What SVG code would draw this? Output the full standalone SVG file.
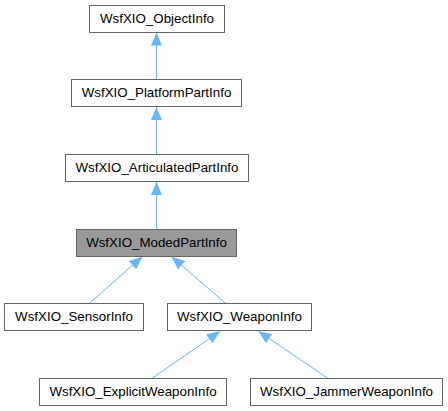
<svg xmlns="http://www.w3.org/2000/svg" width="448" height="411" viewBox="0 0 448 411">
<style>
.box{fill:#ffffff;stroke:#666666;stroke-width:1}
.cur{fill:#999999;stroke:#666666;stroke-width:1}
.lbl{font-family:"Liberation Sans",Arial,sans-serif;font-size:13.33px;fill:#000000;text-anchor:middle}
.edge{fill:none;stroke:#63b8ff;stroke-width:1;marker-end:url(#arr)}
</style>
<defs>
<marker id="arr" markerUnits="userSpaceOnUse" markerWidth="13" markerHeight="11" viewBox="0 0 13 11" refX="13" refY="5.5" orient="auto">
<path d="M0,0 L13,5.5 L0,11 Z" fill="#63b8ff"/>
</marker>
</defs>
<rect width="448" height="411" fill="#ffffff"/>
<g id="connectors">
<path class="edge" d="M156.5,79.5 L156.5,32.5"/>
<path class="edge" d="M156.5,154.5 L156.5,107"/>
<path class="edge" d="M156.5,229.5 L156.5,182"/>
<path class="edge" d="M89,303.5 L142.3,256.7"/>
<path class="edge" d="M225.7,303.5 L171.7,256.7"/>
<path class="edge" d="M151.7,378.5 L220,331.3"/>
<path class="edge" d="M328.3,378.5 L258.3,331.3"/>
</g>
<g id="ObjectInfo"><rect class="box" x="89.5" y="5.5" width="135" height="27"/><text class="lbl" x="157" y="23">WsfXIO_ObjectInfo</text></g>
<g id="PlatformPartInfo"><rect class="box" x="71.5" y="79.5" width="170" height="27"/><text class="lbl" x="156.5" y="97">WsfXIO_PlatformPartInfo</text></g>
<g id="ArticulatedPartInfo"><rect class="box" x="65.5" y="154.5" width="183" height="27"/><text class="lbl" x="157" y="172">WsfXIO_ArticulatedPartInfo</text></g>
<g id="ModedPartInfo"><rect class="cur" x="76.5" y="229.5" width="160" height="27"/><text class="lbl" x="156.5" y="247">WsfXIO_ModedPartInfo</text></g>
<g id="SensorInfo"><rect class="box" x="4.5" y="303.5" width="139" height="27"/><text class="lbl" x="74" y="321">WsfXIO_SensorInfo</text></g>
<g id="WeaponInfo"><rect class="box" x="167.5" y="303.5" width="144" height="27"/><text class="lbl" x="239.5" y="321">WsfXIO_WeaponInfo</text></g>
<g id="ExplicitWeaponInfo"><rect class="box" x="39.5" y="378.5" width="187" height="27"/><text class="lbl" x="133" y="396">WsfXIO_ExplicitWeaponInfo</text></g>
<g id="JammerWeaponInfo"><rect class="box" x="250.5" y="378.5" width="192" height="27"/><text class="lbl" x="346.5" y="396">WsfXIO_JammerWeaponInfo</text></g>
</svg>
